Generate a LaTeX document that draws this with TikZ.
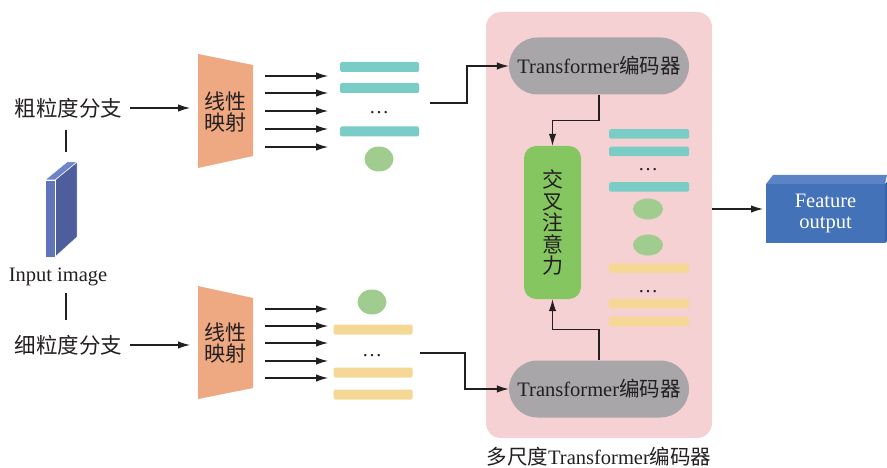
\documentclass[tikz,border=0pt]{standalone}
\usepackage{fontspec}
\setmainfont{Liberation Serif}
\newfontfamily\cjk{Noto Sans CJK SC}
\usetikzlibrary{arrows.meta,shapes.misc,shapes.geometric}
\definecolor{txtc}{HTML}{231F20}
\definecolor{tokteal}{HTML}{7ACCC6}
\definecolor{tokyellow}{HTML}{F5D896}
\definecolor{tokgreen}{HTML}{A0CC8F}
\definecolor{trapc}{HTML}{EEA882}
\definecolor{pinkbg}{HTML}{F6D1D4}
\definecolor{encgray}{HTML}{A8A6A9}
\definecolor{attgreen}{HTML}{86C661}
\definecolor{outfront}{HTML}{4472B8}
\definecolor{outtop}{HTML}{5B84C6}
\definecolor{outside}{HTML}{3A62A6}
\definecolor{slabfront}{HTML}{5F74BB}
\definecolor{slabside}{HTML}{4E5D9C}
\definecolor{slabtop}{HTML}{6F84C8}
\tikzset{
  lbl/.style={inner sep=0pt, text=txtc, font=\fontsize{20.5}{22}\selectfont},
  arr/.style={draw=txtc, line width=1.2pt, -{Latex[length=12pt,width=7.5pt]}},
  conn/.style={draw=txtc, line width=1.2pt},
  tbar/.style={rectangle, rounded corners=1.5pt, inner sep=0pt, minimum width=79pt, minimum height=10pt},
  tell/.style={ellipse, inner sep=0pt, fill=tokgreen, minimum width=29pt, minimum height=25pt},
  rell/.style={ellipse, inner sep=0pt, fill=tokgreen, minimum width=30pt, minimum height=21pt},
  enc/.style={rounded rectangle, fill=encgray, minimum width=180pt, minimum height=57pt, inner sep=0pt, text=txtc, font=\fontsize{20.5}{22}\selectfont},
  dotsnode/.style={inner sep=0pt, anchor=base, text=txtc, font=\fontsize{20}{22}\selectfont}
}
\begin{document}
\begin{tikzpicture}[x=1pt,y=-1pt]
\useasboundingbox (0,0) rectangle (887,468);

% ---------- left labels and slab
\node[lbl, font=\fontsize{21.5}{22}\selectfont] (coarse) at (68.5,108) {\cjk 粗粒度分支};
\node[lbl, font=\fontsize{21.5}{22}\selectfont] (fine) at (68.5,345) {\cjk 细粒度分支};
\node[lbl] (input) at (58,276.5) {Input image};
\node[inner sep=0pt, minimum width=32pt, minimum height=95pt] (slab) at (61,209.5) {};
\fill[slabside, draw=white, line width=0.5pt] (55,180) -- (77,162) -- (77,237) -- (55,257) -- cycle;
\fill[slabtop, draw=white, line width=0.5pt] (45,180) -- (67,162) -- (77,162) -- (55,180) -- cycle;
\fill[slabfront, draw=white, line width=0.5pt] (45,180) rectangle (55,257);
\coordinate (v1a) at (66,130); \coordinate (v1b) at (66,152);
\coordinate (v2a) at (66,293); \coordinate (v2b) at (66,320);
\draw[conn] (v1a) -- (v1b);
\draw[conn] (v2a) -- (v2b);

% ---------- trapezoids
\fill[trapc] (198,54) -- (253,65) -- (253,156) -- (198,168) -- cycle;
\node[lbl, align=center, font=\fontsize{21}{22}\selectfont] (lin1) at (225,112) {\cjk 线性\\[-1pt]\cjk 映射};
\fill[trapc] (198,286) -- (253,298) -- (253,388) -- (198,399) -- cycle;
\node[lbl, align=center, font=\fontsize{21}{22}\selectfont] (lin2) at (225,343) {\cjk 线性\\[-1pt]\cjk 映射};
\coordinate (ce) at (190,108);
\coordinate (fe) at (190,345);
\draw[arr] ([xshift=8pt]coarse.east) -- (ce);
\draw[arr] ([xshift=8pt]fine.east) -- (fe);

% ---------- token arrows
\foreach \y [count=\i] in {76,93,111,129,147} {
  \coordinate (ta\i) at (265,\y); \coordinate (tb\i) at (328,\y);
  \draw[arr] (ta\i) -- (tb\i);
}
\foreach \y [count=\i] in {309,326,343,361,378} {
  \coordinate (ua\i) at (265,\y); \coordinate (ub\i) at (328,\y);
  \draw[arr] (ua\i) -- (ub\i);
}

% ---------- coarse tokens
\node[tbar, fill=tokteal] (ct1) at (379.5,67) {};
\node[tbar, fill=tokteal] (ct2) at (379.5,88) {};
\node[dotsnode] (cdots) at (379,114) {…};
\node[tbar, fill=tokteal] (ct3) at (379.5,131.5) {};
\node[tell] (cg) at (379,159) {};

% ---------- fine tokens
\node[tell] (fg) at (372,302) {};
\node[tbar, fill=tokyellow] (ft1) at (373,329.5) {};
\node[dotsnode] (fdots) at (372,356) {…};
\node[tbar, fill=tokyellow] (ft2) at (373,372.5) {};
\node[tbar, fill=tokyellow] (ft3) at (373,394.5) {};

% ---------- multi-scale block
\node[rectangle, rounded corners=15pt, fill=pinkbg, minimum width=226pt, minimum height=426pt, inner sep=0pt] (ms) at (599,225) {};
\node[enc] (enc1) at (599,66) {Transformer{\cjk 编码器}};
\node[enc] (enc2) at (599,389) {Transformer{\cjk 编码器}};
\node[rectangle, rounded corners=12pt, fill=attgreen, minimum width=57pt, minimum height=153pt, inner sep=0pt, text=txtc, align=center, font=\fontsize{21}{21.5}\selectfont] (att) at (552.5,222.5) {\cjk 交\\\cjk 叉\\\cjk 注\\\cjk 意\\\cjk 力};

\node[tbar, fill=tokteal, minimum width=80pt, minimum height=9.5pt] (rt1) at (649,134) {};
\node[tbar, fill=tokteal, minimum width=80pt, minimum height=9.5pt] (rt2) at (649,151.5) {};
\node[dotsnode] (rdots1) at (648,171) {…};
\node[tbar, fill=tokteal, minimum width=80pt, minimum height=9.5pt] (rt3) at (649,187) {};
\node[rell] (rg1) at (648,209) {};
\node[rell] (rg2) at (648,245) {};
\node[tbar, fill=tokyellow, minimum width=80pt, minimum height=9.5pt] (ry1) at (649,268) {};
\node[dotsnode] (rdots2) at (648,292) {…};
\node[tbar, fill=tokyellow, minimum width=80pt, minimum height=9.5pt] (ry2) at (649,303.5) {};
\node[tbar, fill=tokyellow, minimum width=80pt, minimum height=9.5pt] (ry3) at (649,321.5) {};

% connectors into encoders
\coordinate (c1) at (430,103);
\coordinate (c2) at (420,353);
\draw[arr] (c1) -- (467,103) -- (467,66) -- (enc1.west);
\draw[arr] (c2) -- (465,353) -- (465,389) -- (enc2.west);
\draw[arr] (enc1.south) -- ++(0,25.5) -| (att.north);
\draw[arr] (enc2.north) -- ++(0,-31) -| (att.south);

\node[lbl] (cap) at (599,457) {{\cjk 多尺度}Transformer{\cjk 编码器}};

% ---------- output
\fill[outtop] (766,184) -- (773,175) -- (887,175) -- (885,184) -- cycle;
\fill[outside] (885,184) -- (887,181.5) -- (887,241) -- (885,243) -- cycle;
\node[rectangle, fill=outfront, minimum width=119pt, minimum height=59pt, inner sep=0pt, text=white, align=center, font=\fontsize{20.5}{21}\selectfont] (out) at (825.5,213.5) {Feature\\output};
\coordinate (oe) at (763,209);
\draw[arr] (ms.east |- oe) -- (oe);
\end{tikzpicture}
\end{document}
